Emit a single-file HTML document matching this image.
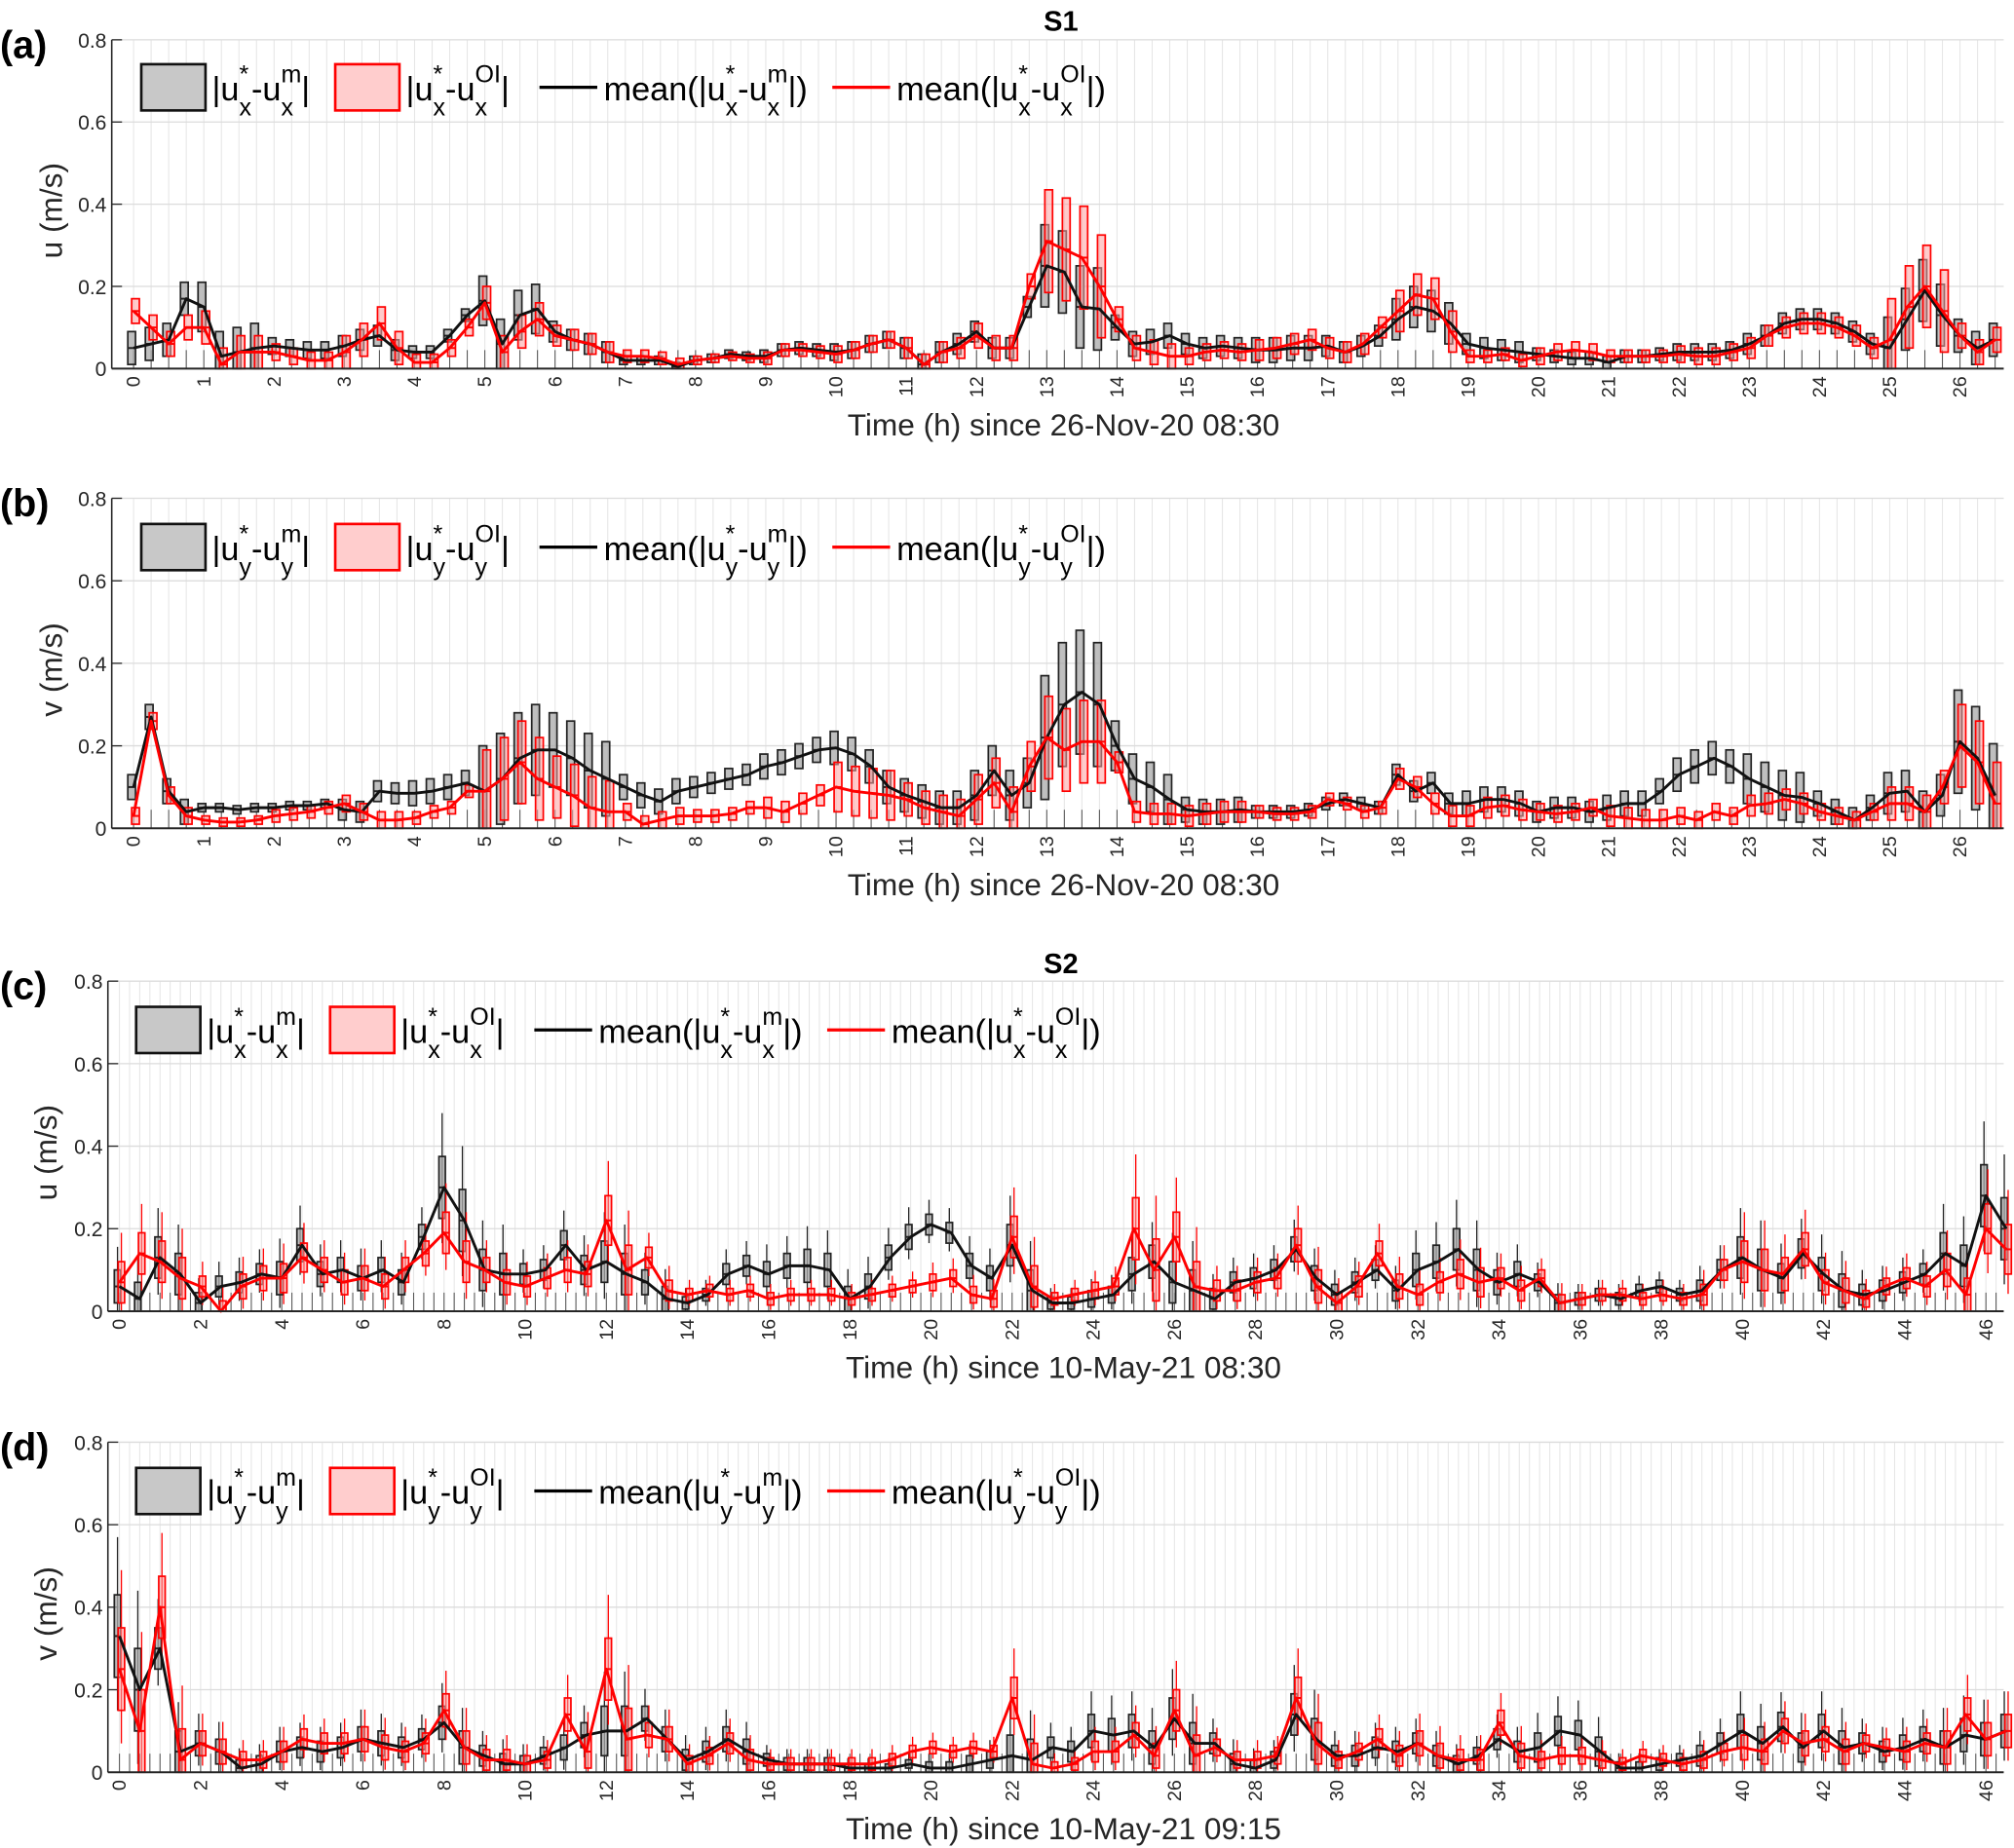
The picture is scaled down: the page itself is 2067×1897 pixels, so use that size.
<!DOCTYPE html>
<html><head><meta charset="utf-8">
<style>
html,body{margin:0;padding:0;background:#fff;}
svg{display:block;}
text{font-family:"Liberation Sans",Arial,sans-serif;}
</style></head>
<body>
<svg id="fig" xmlns="http://www.w3.org/2000/svg" width="2067" height="1897" viewBox="0 0 1568 1439" preserveAspectRatio="none">
<rect x="0" y="0" width="1568" height="1439" fill="#fff"/>
</svg>
<script>
// ---------- data: panel (a) S1 u, every 0.25 h ----------
const aBlack=[0.05,0.06,0.07,0.17,0.15,0.03,0.04,0.05,0.055,0.05,0.045,0.045,0.055,0.07,0.08,0.045,0.04,0.04,0.08,0.13,0.165,0.06,0.13,0.145,0.09,0.07,0.06,0.04,0.02,0.02,0.02,0.005,0.02,0.025,0.035,0.03,0.03,0.045,0.05,0.045,0.04,0.045,0.06,0.07,0.05,0.01,0.04,0.06,0.09,0.05,0.05,0.15,0.25,0.235,0.15,0.145,0.10,0.06,0.065,0.08,0.06,0.05,0.055,0.05,0.045,0.045,0.05,0.05,0.055,0.04,0.055,0.08,0.12,0.15,0.14,0.11,0.06,0.05,0.045,0.04,0.035,0.03,0.025,0.025,0.015,0.03,0.03,0.035,0.04,0.04,0.04,0.045,0.06,0.08,0.11,0.12,0.12,0.11,0.09,0.06,0.05,0.12,0.19,0.13,0.08,0.05,0.07];
const aRed=[0.14,0.10,0.06,0.10,0.10,0.01,0.04,0.04,0.04,0.03,0.02,0.02,0.04,0.07,0.11,0.05,0.015,0.015,0.05,0.10,0.16,0.04,0.09,0.12,0.08,0.07,0.06,0.04,0.03,0.03,0.025,0.01,0.02,0.025,0.03,0.025,0.025,0.045,0.045,0.04,0.035,0.045,0.06,0.07,0.05,0.01,0.04,0.05,0.08,0.05,0.05,0.20,0.31,0.29,0.27,0.20,0.12,0.05,0.04,0.03,0.03,0.04,0.045,0.04,0.045,0.05,0.06,0.07,0.05,0.04,0.06,0.10,0.14,0.18,0.17,0.09,0.03,0.03,0.035,0.02,0.03,0.04,0.045,0.04,0.03,0.03,0.03,0.03,0.035,0.03,0.03,0.04,0.05,0.08,0.10,0.11,0.11,0.10,0.08,0.05,0.07,0.15,0.20,0.14,0.08,0.04,0.07];
const aBlackIqr=[0.08,0.12,0.04,0.05,0.03,0.12,0.05,0.02,0.02,0.03,0.04,0.05,0.05,0.2,0.06,0.05,0.06,0.05,0.1,0.05,0.03,0.03,0.04,0.05,0.05,0.15,0.08];
const aRedIqr=[0.06,0.08,0.04,0.08,0.04,0.08,0.05,0.03,0.02,0.03,0.04,0.05,0.06,0.25,0.06,0.04,0.05,0.05,0.1,0.03,0.04,0.03,0.04,0.05,0.05,0.2,0.06];
// ---------- data: panel (b) S1 v, every 0.25 h ----------
const bBlack=[0.10,0.27,0.09,0.04,0.05,0.05,0.045,0.05,0.05,0.055,0.055,0.06,0.045,0.04,0.09,0.085,0.085,0.09,0.10,0.11,0.09,0.12,0.17,0.19,0.19,0.17,0.14,0.12,0.10,0.08,0.065,0.09,0.10,0.11,0.12,0.13,0.15,0.16,0.175,0.19,0.195,0.18,0.15,0.10,0.08,0.065,0.05,0.05,0.08,0.14,0.08,0.11,0.22,0.30,0.33,0.30,0.20,0.12,0.10,0.07,0.045,0.04,0.04,0.045,0.04,0.04,0.04,0.045,0.06,0.07,0.06,0.05,0.13,0.09,0.11,0.06,0.06,0.07,0.07,0.06,0.04,0.05,0.05,0.04,0.05,0.06,0.06,0.09,0.13,0.15,0.17,0.15,0.12,0.10,0.08,0.075,0.06,0.04,0.02,0.05,0.085,0.09,0.04,0.08,0.21,0.17,0.08];
const bRed=[0.03,0.26,0.08,0.03,0.02,0.015,0.015,0.02,0.03,0.035,0.04,0.05,0.06,0.04,0.02,0.02,0.025,0.04,0.05,0.09,0.09,0.12,0.16,0.12,0.10,0.08,0.05,0.04,0.04,0.01,0.02,0.03,0.03,0.03,0.035,0.05,0.05,0.04,0.06,0.08,0.10,0.09,0.085,0.08,0.07,0.05,0.04,0.03,0.07,0.11,0.04,0.15,0.22,0.19,0.21,0.21,0.16,0.04,0.035,0.035,0.03,0.035,0.04,0.04,0.04,0.035,0.035,0.04,0.07,0.06,0.04,0.05,0.12,0.10,0.06,0.03,0.03,0.05,0.055,0.045,0.04,0.035,0.04,0.05,0.03,0.025,0.02,0.02,0.03,0.02,0.04,0.03,0.055,0.06,0.07,0.06,0.04,0.03,0.02,0.04,0.06,0.06,0.04,0.10,0.20,0.16,0.06];
const bBlackIqr=[0.06,0.02,0.02,0.05,0.06,0.22,0.18,0.06,0.05,0.06,0.08,0.08,0.12,0.3,0.12,0.06,0.03,0.03,0.05,0.06,0.05,0.06,0.08,0.12,0.06,0.1,0.25];
const bRedIqr=[0.04,0.02,0.03,0.04,0.03,0.2,0.15,0.04,0.03,0.05,0.12,0.08,0.12,0.2,0.05,0.05,0.03,0.03,0.05,0.05,0.04,0.05,0.04,0.05,0.04,0.08,0.2];
// ---------- data: panel (c) S2 u, every 0.5 h ----------
const cBlack=[0.06,0.03,0.13,0.09,0.02,0.06,0.07,0.09,0.08,0.16,0.09,0.10,0.08,0.10,0.07,0.18,0.30,0.22,0.10,0.09,0.09,0.10,0.16,0.10,0.12,0.09,0.07,0.03,0.02,0.04,0.09,0.11,0.09,0.11,0.11,0.10,0.03,0.06,0.13,0.18,0.21,0.19,0.11,0.08,0.16,0.05,0.02,0.02,0.03,0.04,0.09,0.12,0.07,0.05,0.03,0.07,0.08,0.10,0.15,0.08,0.04,0.07,0.10,0.05,0.10,0.12,0.15,0.10,0.07,0.09,0.07,0.02,0.03,0.04,0.03,0.05,0.06,0.04,0.05,0.10,0.13,0.10,0.08,0.14,0.09,0.05,0.04,0.05,0.07,0.09,0.14,0.11,0.28,0.20];
const cRed=[0.07,0.14,0.12,0.08,0.06,0.0,0.06,0.08,0.08,0.13,0.10,0.07,0.08,0.06,0.10,0.14,0.19,0.12,0.10,0.07,0.06,0.08,0.10,0.09,0.22,0.10,0.13,0.05,0.04,0.05,0.04,0.05,0.03,0.04,0.04,0.04,0.03,0.04,0.05,0.06,0.07,0.08,0.04,0.03,0.18,0.06,0.03,0.04,0.05,0.06,0.20,0.10,0.18,0.06,0.05,0.05,0.07,0.08,0.16,0.06,0.02,0.06,0.14,0.06,0.04,0.07,0.09,0.07,0.08,0.05,0.08,0.02,0.03,0.04,0.04,0.03,0.04,0.03,0.04,0.10,0.12,0.10,0.09,0.15,0.07,0.05,0.03,0.06,0.08,0.06,0.10,0.04,0.20,0.15];
const cBlackIqr=[0.08,0.1,0.05,0.05,0.08,0.06,0.06,0.06,0.15,0.1,0.05,0.07,0.1,0.06,0.03,0.05,0.06,0.08,0.06,0.06,0.05,0.06,0.1,0.03,0.04,0.08,0.1,0.05,0.05,0.06,0.05,0.05,0.08,0.1,0.06,0.04,0.03,0.03,0.03,0.05,0.1,0.07,0.08,0.05,0.05,0.1,0.15];
const cRedIqr=[0.1,0.1,0.05,0.06,0.07,0.06,0.06,0.06,0.1,0.06,0.05,0.06,0.12,0.05,0.03,0.03,0.03,0.03,0.03,0.03,0.04,0.04,0.1,0.03,0.04,0.15,0.12,0.05,0.05,0.08,0.05,0.06,0.05,0.07,0.05,0.04,0.03,0.03,0.03,0.05,0.1,0.08,0.06,0.04,0.05,0.08,0.12];
// ---------- data: panel (d) S2 v, every 0.5 h ----------
const dBlack=[0.33,0.20,0.30,0.05,0.07,0.05,0.01,0.02,0.05,0.06,0.05,0.06,0.08,0.07,0.06,0.08,0.12,0.06,0.04,0.02,0.02,0.04,0.06,0.09,0.10,0.10,0.13,0.08,0.03,0.05,0.08,0.05,0.03,0.02,0.02,0.02,0.01,0.01,0.01,0.02,0.01,0.01,0.02,0.03,0.04,0.03,0.06,0.05,0.10,0.09,0.10,0.06,0.13,0.07,0.07,0.02,0.01,0.03,0.14,0.08,0.04,0.04,0.06,0.05,0.07,0.04,0.02,0.04,0.08,0.05,0.06,0.10,0.09,0.05,0.01,0.01,0.02,0.03,0.04,0.07,0.10,0.07,0.11,0.06,0.10,0.06,0.07,0.05,0.06,0.08,0.06,0.09,0.08,0.10];
const dRed=[0.25,0.10,0.40,0.03,0.07,0.05,0.03,0.03,0.05,0.08,0.07,0.07,0.08,0.06,0.05,0.07,0.15,0.06,0.03,0.03,0.02,0.03,0.14,0.05,0.25,0.08,0.09,0.08,0.02,0.04,0.07,0.03,0.02,0.02,0.02,0.02,0.02,0.02,0.03,0.05,0.06,0.05,0.06,0.05,0.18,0.02,0.01,0.02,0.05,0.05,0.09,0.04,0.15,0.04,0.06,0.03,0.03,0.04,0.18,0.07,0.03,0.05,0.08,0.04,0.07,0.04,0.03,0.03,0.12,0.04,0.03,0.04,0.04,0.03,0.02,0.04,0.03,0.02,0.03,0.05,0.06,0.05,0.10,0.07,0.08,0.05,0.07,0.06,0.05,0.07,0.06,0.14,0.08,0.10];
const dBlackIqr=[0.2,0.1,0.06,0.04,0.05,0.05,0.06,0.05,0.08,0.05,0.04,0.06,0.12,0.06,0.05,0.06,0.03,0.03,0.02,0.02,0.03,0.04,0.1,0.05,0.08,0.08,0.1,0.05,0.04,0.1,0.05,0.05,0.05,0.04,0.05,0.07,0.07,0.03,0.03,0.05,0.08,0.07,0.08,0.05,0.06,0.08,0.08];
const dRedIqr=[0.2,0.15,0.06,0.04,0.05,0.05,0.06,0.05,0.08,0.05,0.04,0.08,0.15,0.06,0.04,0.05,0.03,0.03,0.03,0.03,0.03,0.03,0.1,0.03,0.05,0.06,0.1,0.04,0.04,0.1,0.04,0.05,0.06,0.05,0.06,0.04,0.04,0.03,0.03,0.04,0.06,0.06,0.06,0.04,0.05,0.08,0.08];
const yTicks=[0,0.2,0.4,0.6,0.8];
const yTickLabels=["0","0.2","0.4","0.6","0.8"];

const NS="http://www.w3.org/2000/svg";
const svg=document.getElementById('fig');
function mk(tag,attrs,parent){const e=document.createElementNS(NS,tag);for(const k in attrs)e.setAttribute(k,attrs[k]);(parent||svg).appendChild(e);return e;}

function panel(o){
  const g=mk('g',{});
  
  
  const X=t=>o.x0+t*o.pph;
  const Y=v=>o.bottom-(v/0.8)*(o.bottom-o.top);
  for(let t=0;X(t)<o.right;t+=0.25){
    if(X(t)<o.left)continue;
    const l=mk('line',{x1:X(t),x2:X(t),y1:o.top,y2:o.bottom,stroke:'#e6e6e6','stroke-width':0.8},g);
    
    
  }
  yTicks.forEach((v,i)=>{
    const l=mk('line',{x1:o.left,x2:o.right,y1:Y(v),y2:Y(v),stroke:'#dcdcdc','stroke-width':1},g);
    
    
    mk('line',{x1:o.left,x2:o.left+8,y1:Y(v),y2:Y(v),stroke:'#262626','stroke-width':1},g);
    const tx=mk('text',{x:o.left-4,y:Y(v)+6,'text-anchor':'end','font-size':16,fill:'#262626'},g);
    tx.textContent=yTickLabels[i];
    
    
  });
  for(let t=0;X(t)<o.right-2;t+=0.25){
    mk('line',{x1:X(t),x2:X(t),y1:o.bottom,y2:Y(0.045),stroke:'#555','stroke-width':0.8},g);
  }
  const drawBoxes=(vals,iqr,step,stroke,fill,dx,w,whisk)=>{
    vals.forEach((m,i)=>{
      const t=i*step;const s=iqr[Math.min(iqr.length-1,Math.floor(t))];
      const lo=Math.max(0,m-s*0.5),hi=m+s*0.5;
      if(whisk){mk('line',{x1:X(t)+dx,x2:X(t)+dx,y1:Y(Math.max(0,lo-s*0.4)),y2:Y(hi+s*0.7),stroke:stroke,'stroke-width':1},g);}
      const r=mk('rect',{x:X(t)+dx-w/2,y:Y(hi),width:w,height:Math.max(2,Y(lo)-Y(hi)),fill:fill,stroke:stroke,'stroke-width':1.3},g);
      
      
      mk('line',{x1:X(t)+dx-w/2,x2:X(t)+dx+w/2,y1:Y(m),y2:Y(m),stroke:stroke,'stroke-width':1.5},g);
    });
  };
  drawBoxes(o.black,o.blackIqr,o.step,'#222','rgba(170,170,170,0.75)',-1.5,o.bw,o.whisk);
  drawBoxes(o.red,o.redIqr,o.step,'#f00','rgba(255,160,160,0.55)',1.5,o.bw,o.whisk);
  const line=(vals,col,nm)=>{
    const p=mk('polyline',{points:vals.map((v,i)=>X(i*o.step)+','+Y(v)).join(' '),fill:'none',stroke:col,'stroke-width':2.2,'stroke-linejoin':'round'},g);
    
    
  };
  line(o.black,'#111','mean-model-line');
  line(o.red,'#f00','mean-oi-line');
  mk('line',{x1:o.left,x2:o.left,y1:o.top,y2:o.bottom,stroke:'#262626','stroke-width':1.2},g);
  mk('line',{x1:o.left,x2:o.right,y1:o.bottom,y2:o.bottom,stroke:'#262626','stroke-width':1.5},g);
  for(let t=0;t<=o.xmax;t+=o.xstep){
    const tx=mk('text',{x:0,y:0,'text-anchor':'end','font-size':15,fill:'#262626',transform:`translate(${X(t)+5},${o.bottom+6}) rotate(-90)`},g);
    tx.textContent=String(t);
    
    
  }
  const xl=mk('text',{x:828,y:o.bottom+52,'text-anchor':'middle','font-size':24,fill:'#262626'},g);
  xl.textContent=o.xlabel;
  
  
  const yl=mk('text',{x:0,y:0,'text-anchor':'middle','font-size':24,fill:'#262626',transform:`translate(${o.ylx},${(o.top+o.bottom)/2+5}) rotate(-90)`},g);
  yl.textContent=o.ylabel;
  
  
  const pl=mk('text',{x:0,y:o.top+14,'font-size':30,'font-weight':'bold',fill:'#000'},g);
  pl.textContent=o.tag;
  
  
  // legend
  const lx=o.legX, ly=o.legY, c=o.comp;
  const lg=mk('g',{},g);
  
  
  mk('rect',{x:lx,y:ly-20,width:50,height:36,fill:'#c8c8c8',stroke:'#111','stroke-width':2},lg);
  const lab=(x,pre,sup,post)=>{
    let cx=x;
    const base=ly+8;
    const put=(str,size,dy)=>{const t=mk('text',{x:cx,y:base+dy,'font-size':size,fill:'#000'},lg);t.textContent=str;return t.getComputedTextLength();};
    const pair=(s1,s2)=>{const w1=put(s1,19,-14);const w2=put(s2,19,12);cx+=Math.max(w1,w2);};
    cx+=put(pre+'|u',26,0);
    pair('*',c);
    cx+=put('-u',26,0);
    pair(sup,c);
    cx+=put('|'+post,26,0);
  };
  lab(lx+55,'','m','');
  mk('rect',{x:lx+151,y:ly-20,width:50,height:36,fill:'#ffcdcd',stroke:'#f00','stroke-width':2},lg);
  lab(lx+206,'','OI','');
  mk('line',{x1:lx+310,x2:lx+355,y1:ly-2,y2:ly-2,stroke:'#000','stroke-width':2.5},lg);
  lab(lx+360,'mean(','m',')');
  mk('line',{x1:lx+538,x2:lx+583,y1:ly-2,y2:ly-2,stroke:'#f00','stroke-width':2.5},lg);
  lab(lx+588,'mean(','OI',')');
}

const t1=mk('text',{x:826,y:24,'text-anchor':'middle','font-size':22,'font-weight':'bold'});
t1.textContent='S1';


const t2=mk('text',{x:826,y:758,'text-anchor':'middle','font-size':22,'font-weight':'bold'});
t2.textContent='S2';



panel({name:'panel-a',tag:'(a)',left:87,right:1560,top:31,bottom:287,x0:104,pph:54.69,step:0.25,black:aBlack,red:aRed,blackIqr:aBlackIqr,redIqr:aRedIqr,bw:6,whisk:false,xmax:26,xstep:1,xlabel:'Time (h) since 26-Nov-20 08:30',ylabel:'u (m/s)',ylx:48,legX:110,legY:70,comp:'x'});
panel({name:'panel-b',tag:'(b)',left:87,right:1560,top:388,bottom:645,x0:104,pph:54.69,step:0.25,black:bBlack,red:bRed,blackIqr:bBlackIqr,redIqr:bRedIqr,bw:6,whisk:false,xmax:26,xstep:1,xlabel:'Time (h) since 26-Nov-20 08:30',ylabel:'v (m/s)',ylx:48,legX:110,legY:428,comp:'y'});
panel({name:'panel-c',tag:'(c)',left:84,right:1560,top:764,bottom:1021,x0:93,pph:31.59,step:0.5,black:cBlack,red:cRed,blackIqr:cBlackIqr,redIqr:cRedIqr,bw:5,whisk:true,xmax:46,xstep:2,xlabel:'Time (h) since 10-May-21 08:30',ylabel:'u (m/s)',ylx:44,legX:106,legY:804,comp:'x'});
panel({name:'panel-d',tag:'(d)',left:84,right:1560,top:1123,bottom:1380,x0:93,pph:31.59,step:0.5,black:dBlack,red:dRed,blackIqr:dBlackIqr,redIqr:dRedIqr,bw:5,whisk:true,xmax:46,xstep:2,xlabel:'Time (h) since 10-May-21 09:15',ylabel:'v (m/s)',ylx:44,legX:106,legY:1163,comp:'y'});
</script>
</body></html>
